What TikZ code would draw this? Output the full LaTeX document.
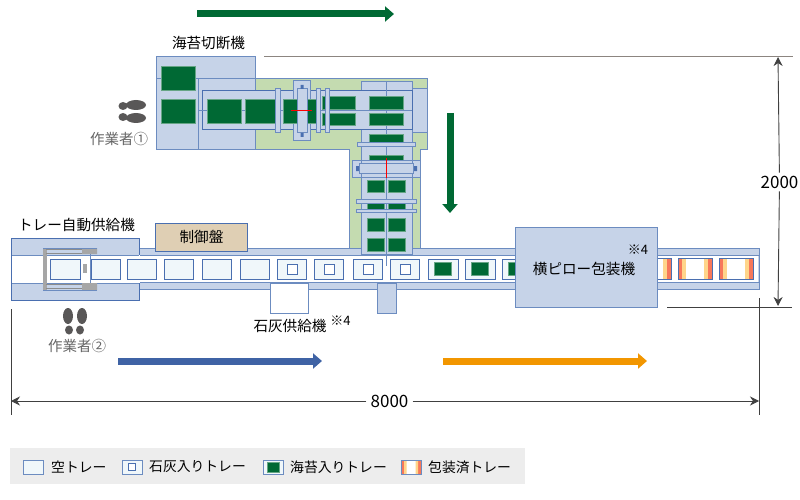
\documentclass[tikz,border=0pt]{standalone}
\usepackage{fontspec}
\setmainfont{Noto Sans CJK JP}
\usetikzlibrary{arrows.meta}
\definecolor{bodyblue}{HTML}{C6D3E8}
\definecolor{edgeblue}{HTML}{6C8CC0}
\definecolor{darkedge}{HTML}{4A6FB0}
\definecolor{seaweed}{HTML}{006934}
\definecolor{basegreen}{HTML}{C4DBB0}
\definecolor{panelbrown}{HTML}{DFCFB4}
\definecolor{trayfill}{HTML}{F0F7FA}
\definecolor{flowblue}{HTML}{3F63A5}
\definecolor{floworange}{HTML}{F29600}
\definecolor{dimgray}{HTML}{8C8580}
\definecolor{workergray}{HTML}{595757}
\definecolor{wrapred}{HTML}{F7785A}
\definecolor{wrapyellow}{HTML}{FFD58A}
\tikzset{
  body/.style={draw=edgeblue,fill=bodyblue,line width=1pt},
  nori/.style={fill=seaweed,draw=seaweed!60!white,line width=0.4pt},
  tray/.style={draw=darkedge,fill=trayfill,line width=0.9pt},
  lime/.style={draw=darkedge,fill=white,line width=0.9pt},
  flow/.style={line width=7pt,-{Triangle[length=9pt,width=15pt]}},
  dimline/.style={draw=black!75,line width=0.7pt},
  dimarrow/.style={draw=black!75,line width=0.9pt,-{Stealth[length=9pt,width=9pt]}},
  lab/.style={font=\fontsize{14.6}{15}\selectfont,inner sep=0pt},
  digits/.style={font=\fontsize{17}{17}\selectfont,inner sep=0pt,fill=white},
  keylab/.style={font=\fontsize{13.8}{14}\selectfont,inner sep=0pt,anchor=west},
  worker/.style={font=\fontsize{14.5}{15}\selectfont,inner sep=0pt,text=black!60},
  note/.style={font=\fontsize{13}{13}\selectfont,inner sep=0pt},
  sole/.style={fill=workergray}
}
\newcommand{\wrapped}[2]{% wrapped tray from x=#1 to x=#2
  \fill[white] (#1,258) rectangle (#2,279);
  \fill[wrapred] (#1,258) rectangle ++(4,21);
  \fill[wrapyellow] (#1+4,258) rectangle ++(4,21);
  \fill[wrapred] (#2,258) rectangle ++(-4,21);
  \fill[wrapyellow] (#2-4,258) rectangle ++(-4,21);
  \draw[darkedge,line width=0.9pt] (#1,258) rectangle (#2,279);
}
\begin{document}
\begin{tikzpicture}[x=1pt,y=-1pt]
  \useasboundingbox (0,0) rectangle (800,500);
  % green base under the cutter
  \fill[basegreen] (255,79) rectangle (427,149);
  \fill[basegreen] (349,149) rectangle (420,250);
  \draw[edgeblue,line width=1pt] (255,79) -- (427,79) -- (427,149) -- (420,149) -- (420,250);
  \draw[edgeblue,line width=1pt] (255,149) -- (349,149) -- (349,250);
  % conveyor
  \draw[body] (139,248) rectangle (759,289);
  \fill[white] (12,255) rectangle (758,282);
  \draw[edgeblue,line width=1pt] (139,255) -- (759,255) (139,282) -- (759,282);
  % tray supply machine
  \draw[body,draw=darkedge] (11,238) rectangle (139,300);
  \fill[white] (12,255) rectangle (140,283);
  \draw[edgeblue,line width=0.7pt] (12,255) -- (139,255) (12,283) -- (139,283);
  % lower feeders
  \draw[lime,draw=edgeblue] (270,283) rectangle (308,313);
  \draw[body] (377,283) rectangle (396,313);
  % nori cutter
  \draw[body] (156,57) rectangle (255,149);
  \draw[edgeblue,line width=1pt] (156,79) -- (255,79) (198,79) -- (198,149);
  \draw[body] (361,82) rectangle (412,254);
  \draw[body] (412,89) rectangle (427,133);
  \draw[body,draw=darkedge] (202,91) rectangle (412,130);
  \draw[body] (293,81) rectangle (310,140);
  \draw[edgeblue,line width=0.8pt] (199,110) -- (412,110);
  \draw[edgeblue,line width=0.8pt] (386.5,82) -- (386.5,266);
  \fill[nori] (161,66) rectangle (195,90);
  \fill[nori] (161,99) rectangle (195,123);
  \foreach \xa/\xb in {207/241,245/275,283/316}
    \path[nori] (\xa,99) rectangle (\xb,123);
  \foreach \xa/\xb in {322/355,369/403}{
    \path[nori] (\xa,96) rectangle (\xb,109);
    \path[nori] (\xa,113) rectangle (\xb,125);
  }
  \path[nori] (369,134) rectangle (403,143);
  \path[nori] (369,155) rectangle (403,164);
  \foreach \ya/\yb in {180/192,203/209,218/231,238/251}{
    \path[nori] (367,\ya) rectangle (384,\yb);
    \path[nori] (388,\ya) rectangle (405,\yb);
  }
  % rollers
  \foreach \xa/\xb in {275/280,316/320,325/329}
    \draw[body] (\xa,89) rectangle (\xb,133);
  \draw[body] (297,89) rectangle (307,133);
  \fill[darkedge] (300.5,85) rectangle (303.5,89) (300.5,133) rectangle (303.5,137);
  \draw[body] (352,160) rectangle (420,177);
  \fill[darkedge] (356,166) rectangle (359,171) (414,166) rectangle (417,171);
  \draw[body] (361,160) rectangle (412,177);
  \draw[body] (359,163) rectangle (413,173);
  \draw[body] (357,142) rectangle (415,146);
  \draw[body] (356,199) rectangle (416,203);
  \draw[body] (356,209) rectangle (416,212);
  \draw[red,line width=1.6pt] (291,110.5) -- (312,110.5);
  \draw[red,line width=1.6pt] (386.5,158) -- (386.5,178);
  % trays on the conveyor
  \foreach \xa in {91,127,164,202,240}
    \draw[tray] (\xa,259) rectangle ++(29,20);
  \foreach \xa in {277,314,353,390}{
    \draw[tray] (\xa,259) rectangle ++(29,20);
    \draw[lime] (\xa+10,264) rectangle ++(10,10);
  }
  \foreach \xa in {428,465,502}{
    \draw[tray] (\xa,259) rectangle ++(30,20);
    \path[nori] (\xa+6,262.5) rectangle ++(17,13);
  }
  \wrapped{678}{712}
  \wrapped{719}{753}
  \wrapped{640}{671}
  % packaging machine
  \draw[body] (515,227) rectangle (657,307);
  % tray supply frame
  \draw[tray] (50,259) rectangle (80,279);
  \fill[gray!70] (43,248) rectangle (46.5,290);
  \fill[gray!70] (82,248) rectangle (97,254) (82,283) rectangle (97,290);
  \fill[gray!70] (83,264) rectangle (87,273);
  \draw[gray!90,line width=1pt] (46,249.5) -- (82,249.5) (46,253.5) -- (82,253.5)
    (46,284) -- (82,284) (46,288.5) -- (82,288.5);
  \draw[edgeblue,line width=0.7pt] (43,248) -- (97,248) (43,290) -- (97,290) (90,254) -- (90,283);
  % control panel
  \node[draw=darkedge,fill=panelbrown,line width=1pt,minimum width=92pt,minimum height=28pt,lab] (panel) at (201.5,237) {制御盤};
  % flow arrows
  \coordinate (cutStart) at (197,14);
  \coordinate (cutEnd) at (394,14);
  \coordinate (downStart) at (450,113);
  \coordinate (downEnd) at (450,213);
  \coordinate (limeStart) at (118,361);
  \coordinate (limeEnd) at (322,361);
  \coordinate (packStart) at (443,361);
  \coordinate (packEnd) at (647,361);
  \draw[flow,seaweed] (cutStart) -- (cutEnd);
  \draw[flow,seaweed] (downStart) -- (downEnd);
  \draw[flow,flowblue] (limeStart) -- (limeEnd);
  \draw[flow,floworange] (packStart) -- (packEnd);
  % dimensions
  \coordinate (topA) at (264,57);
  \coordinate (topB) at (793,57);
  \coordinate (lowA) at (667,307);
  \coordinate (lowB) at (792,307);
  \coordinate (leftA) at (11,309);
  \coordinate (leftB) at (11,415);
  \coordinate (rightA) at (759,298);
  \coordinate (rightB) at (759,415);
  \coordinate (heightTop) at (778,57);
  \coordinate (heightLow) at (778,306);
  \coordinate (widthLeft) at (11,401);
  \coordinate (widthRight) at (759,401);
  \draw[dimline,draw=dimgray,line width=1pt] (topA) -- (topB);
  \draw[dimline] (lowA) -- (lowB);
  \draw[dimline] (leftA) -- (leftB);
  \draw[dimline] (rightA) -- (rightB);
  \node[digits,inner ysep=3pt] (height) at (779.5,182) {2000};
  \node[digits,inner xsep=4pt,inner ysep=3pt] (width) at (389.5,401) {8000};
  \draw[dimarrow] (height) -- (heightTop);
  \draw[dimarrow] (height) -- (heightLow);
  \draw[dimarrow] (width) -- (widthLeft);
  \draw[dimarrow] (width) -- (widthRight);
  % labels
  \node[lab] (cutter) at (208.5,43) {海苔切断機};
  \node[lab] (supply) at (76.5,225) {トレー自動供給機};
  \node[lab] (limefeed) at (290,326) {石灰供給機};
  \node[note] (limenote) at (340.5,321) {※4};
  \node[lab] (packer) at (584,268.5) {横ピロー包装機};
  \node[note] (packnote) at (638,250) {※4};
  \node[worker] (workerA) at (119,139) {作業者①};
  \node[worker] (workerB) at (77,346) {作業者②};
  % footprints
  \fill[sole] (136,105) ellipse (10 and 5) (123,106) ellipse (4.5 and 4);
  \fill[sole] (136,118) ellipse (10 and 5) (123,117) ellipse (4.5 and 4);
  \fill[sole] (68,316) ellipse (5 and 8) (69,330) ellipse (4 and 4.5);
  \fill[sole] (82,316) ellipse (5 and 8) (80,330) ellipse (4 and 4.5);
  % legend
  \fill[black!7] (10,448) rectangle (525,484);
  \draw[draw=edgeblue,fill=trayfill,line width=1pt] (23,460) rectangle (43,474);
  \node[keylab] (keyEmpty) at (51,467) {空トレー};
  \draw[draw=edgeblue,fill=trayfill,line width=1pt] (122,460) rectangle (142,474);
  \draw[lime,line width=0.7pt] (128,463) rectangle ++(7,7);
  \node[keylab] (keyLime) at (149,467) {石灰入りトレー};
  \draw[draw=edgeblue,fill=trayfill,line width=1pt] (263,460) rectangle (283,474);
  \path[nori] (267,462) rectangle (279,472);
  \node[keylab] (keyNori) at (290,467) {海苔入りトレー};
  \fill[white] (401,460) rectangle (421,474);
  \fill[wrapred] (401,460) rectangle ++(3,14) (421,460) rectangle ++(-3,14);
  \fill[wrapyellow] (404,460) rectangle ++(2.5,14) (418,460) rectangle ++(-2.5,14);
  \draw[edgeblue,line width=1pt] (401,460) rectangle (421,474);
  \node[keylab] (keyPacked) at (428,467) {包装済トレー};
\end{tikzpicture}
\end{document}
